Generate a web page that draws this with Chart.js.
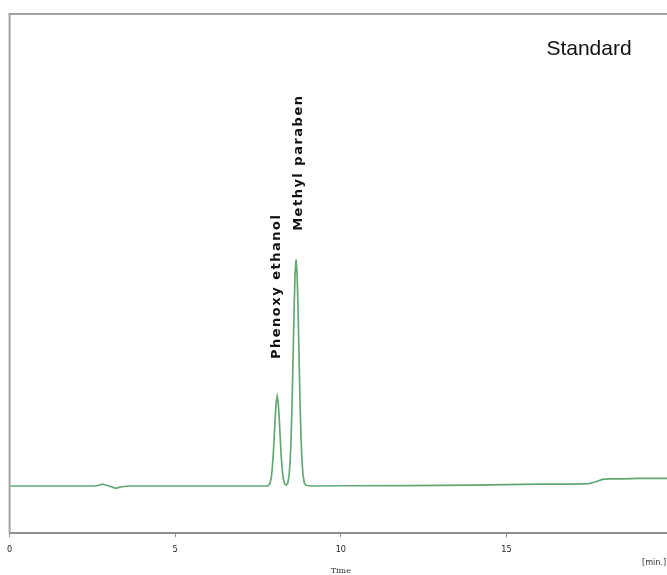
<!DOCTYPE html>
<html>
<head>
<meta charset="utf-8">
<script src="https://cdn.jsdelivr.net/npm/chart.js@4"></script>
<style>
  html, body { margin: 0; padding: 0; background: #fff; overflow: hidden; width: 667px; height: 575px; }
  #wrap { position: absolute; left: 0; top: 0; width: 700px; height: 575px; }
</style>
</head>
<body>
<div id="wrap"><canvas id="c" width="700" height="575"></canvas></div>
<script>
// Retention time (min)
const times = [
  0, 1, 2, 2.6, 2.72, 2.8, 2.9, 3.05, 3.2, 3.3, 3.45, 3.6, 5, 7, 7.8,
  7.86, 7.90, 7.93, 7.96, 7.99, 8.02, 8.05, 8.08, 8.11, 8.14, 8.17, 8.20, 8.23, 8.26, 8.30,
  8.35, 8.40, 8.44, 8.47, 8.50, 8.53, 8.56, 8.59, 8.62, 8.65, 8.68, 8.71, 8.74, 8.77, 8.80,
  8.83, 8.86, 8.90, 8.95, 9.1, 10, 12, 14, 16, 17, 17.5, 17.7, 17.9, 18.1, 18.5, 19, 20
];
// Detector signal (arbitrary units)
const signal = [
  0, 0, 0, 0, 0.2, 0.4, 0.2, -0.1, -0.5, -0.3, -0.1, 0, 0, 0, 0,
  0.5, 1.7, 3.6, 6.5, 10.4, 14.5, 17.8, 19, 17.8, 14.5, 10.4, 6.5, 3.6, 1.7, 0.5,
  0.2, 0.6, 2.3, 5.1, 10.1, 17.7, 27.4, 37.4, 45.1, 48, 45.1, 37.4, 27.4, 17.7, 10.1,
  5.1, 2.3, 0.6, 0.15, 0, 0.05, 0.1, 0.2, 0.4, 0.4, 0.5, 0.9, 1.4, 1.5, 1.5, 1.6, 1.6
];
const xTicks = [0, 5, 10, 15, 20];
const peakNames = ["Phenoxy ethanol", "Methyl paraben"];
const peakTimes = [8.08, 8.65];
const peakLabelCentre = [42.3, 68.5];   // signal value at label centre
const sampleTitle = "Standard";
const xTitle = "Time";
const xUnit = "[min.]";

const points = times.map((t, i) => ({ x: t, y: signal[i] }));

const annot = {
  id: 'annot',
  afterDraw(chart) {
    const ctx = chart.ctx;
    const xs = chart.scales.x, ys = chart.scales.y;
    const ca = chart.chartArea;
    ctx.save();
    // top frame line
    ctx.strokeStyle = '#a3a3a3';
    ctx.lineWidth = 2;
    ctx.beginPath();
    ctx.moveTo(ca.left - 1, ca.top);
    ctx.lineTo(ca.right + 20, ca.top);
    ctx.stroke();
    // left frame line
    ctx.beginPath();
    ctx.moveTo(ca.left, ca.top - 1);
    ctx.lineTo(ca.left, ca.bottom);
    ctx.stroke();

    // peak labels, rotated
    ctx.fillStyle = '#111';
    ctx.font = 'bold 13px "DejaVu Sans"';
    ctx.textAlign = 'center';
    ctx.textBaseline = 'middle';
    try { ctx.letterSpacing = '1.5px'; } catch (e) {}
    const offs = [-0.5, 2.5];
    peakNames.forEach((name, i) => {
      const px = xs.getPixelForValue(peakTimes[i]) + offs[i];
      const py = ys.getPixelForValue(peakLabelCentre[i]);
      ctx.save();
      ctx.translate(px, py);
      ctx.rotate(-Math.PI / 2);
      ctx.fillText(name, 0, 0);
      ctx.restore();
    });
    try { ctx.letterSpacing = '0px'; } catch (e) {}

    // title
    ctx.font = '21px "Liberation Sans"';
    ctx.fillStyle = '#111';
    ctx.textAlign = 'center';
    ctx.fillText(sampleTitle, 589, 49);

    // unit label
    ctx.font = '9px "DejaVu Sans Condensed"';
    ctx.fillStyle = '#333';
    ctx.textAlign = 'left';
    ctx.fillText(xUnit, 642, 563);
    ctx.restore();
  }
};

new Chart(document.getElementById('c'), {
  type: 'line',
  data: {
    datasets: [{
      data: points,
      borderColor: '#62a874',
      borderWidth: 1.7,
      pointRadius: 0,
      tension: 0,
      fill: false
    }]
  },
  options: {
    responsive: false,
    animation: false,
    layout: { padding: { left: 9, right: 28, top: 14, bottom: 0 } },
    plugins: { legend: { display: false }, tooltip: { enabled: false } },
    scales: {
      x: {
        type: 'linear',
        min: 0, max: 20,
        afterBuildTicks(axis) { axis.ticks = xTicks.map(v => ({ value: v })); },
        border: { display: true, color: '#8f8f8f', width: 2 },
        grid: { display: true, drawOnChartArea: false, drawTicks: true, tickLength: 4, color: '#8f8f8f' },
        ticks: { font: { size: 9, family: '"DejaVu Sans Condensed"' }, color: '#222', padding: 7, maxRotation: 0 },
        title: { display: true, text: xTitle, font: { size: 8, family: '"DejaVu Serif"', lineHeight: 1 }, color: '#333', padding: { top: 5, bottom: 0 } }
      },
      y: {
        type: 'linear',
        min: -10, max: 100,
        display: false
      }
    }
  },
  plugins: [annot]
});
</script>
</body>
</html>
